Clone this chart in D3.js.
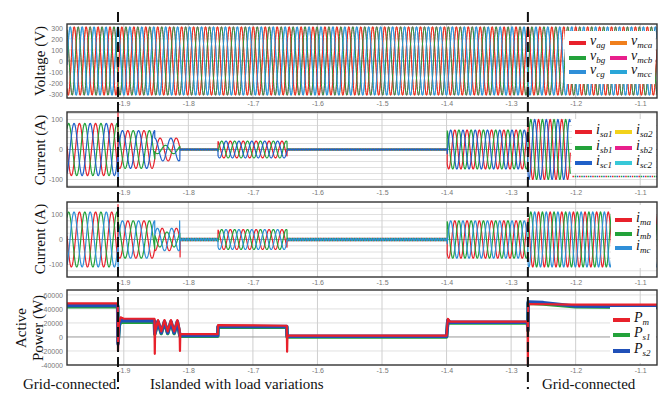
<!DOCTYPE html>
<html><head><meta charset="utf-8">
<script src="https://cdn.jsdelivr.net/npm/d3@7"></script>
<style>body{margin:0;background:#fff}svg{display:block}</style>
</head><body>
<svg id="c" width="669" height="395"></svg>
<script>
// ---------------- DATA ----------------
const timeTicks = [-1.9, -1.8, -1.7, -1.6, -1.5, -1.4, -1.3, -1.2, -1.1];
const timeDomain = [-1.988, -1.074];
const modeChangeTimes = [-1.909, -1.274];

const voltTicks = [-300, -200, -100, 0, 100, 200, 300];
const srcCurTicks = [-100, 0, 100];
const srcCurGrid = [-120, -100, -80, -60, -40, -20, 20, 40, 60, 80, 100, 120];
const mgCurTicks = [-100, 0, 100];
const mgCurGrid = [-125, -100, -75, -50, -25, 25, 50, 75, 100, 125];
const powerTicks = [-40000, -20000, 0, 20000, 40000, 60000];

// wave segments: [tStart, tEnd, period, ampPhaseA, ampPhaseB, ampPhaseC]
const voltSegments = [[-1.988, -1.074, 0.0185, 310, 310, 310]];
const srcCurSegments = [
  [-1.988, -1.9095, 0.025, 87, 87, 87],
  [-1.9085, -1.852, 0.025, 63, 63, 63],
  [-1.852, -1.813, 0.025, 38, 14, 38],
  [-1.813, -1.754, 0.004, 2, 2, 2],
  [-1.754, -1.647, 0.02, 28, 28, 28],
  [-1.647, -1.399, 0.004, 2, 2, 2],
  [-1.399, -1.2745, 0.019, 65, 65, 65],
  [-1.2735, -1.208, 0.018, 100, 100, 100]
];
// spikes: [time, phase index, value]
const srcCurSpikes = [[-1.909, 0, 125], [-1.9087, 2, -125]];
// dotted trace after the source is disconnected: [tStart, tEnd, value]
const srcCurTail = [[-1.205, -1.074, -90]];

const mgCurSegments = [
  [-1.988, -1.9095, 0.025, 110, 110, 110],
  [-1.9085, -1.852, 0.025, 75, 75, 75],
  [-1.852, -1.813, 0.022, 45, 30, 45],
  [-1.813, -1.754, 0.004, 5, 5, 5],
  [-1.754, -1.647, 0.02, 40, 40, 40],
  [-1.647, -1.399, 0.004, 5, 5, 5],
  [-1.399, -1.2745, 0.019, 75, 75, 75],
  [-1.2735, -1.074, 0.018, 110, 110, 110]
];
const mgCurSpikes = [[-1.909, 0, 140], [-1.9087, 2, -120], [-1.8135, 2, 75], [-1.8128, 0, -70]];

// active power traces [time, W]
const powerPm = [
  [-1.988, 48000], [-1.9095, 48000], [-1.909, -20000], [-1.9075, 20000], [-1.905, 28000], [-1.9, 26000],
  [-1.8525, 26000], [-1.852, -24000], [-1.8515, 8000], [-1.847, 24000], [-1.842, 8000], [-1.837, 24000],
  [-1.832, 8000], [-1.827, 24000], [-1.822, 8000], [-1.817, 24000], [-1.8135, 10000], [-1.813, -20000],
  [-1.8125, 4000], [-1.7545, 4000], [-1.754, 17000], [-1.6475, 16000], [-1.647, -21000], [-1.6465, 2000],
  [-1.4, 2000], [-1.398, 26000], [-1.395, 22000], [-1.2745, 22000], [-1.274, -40000], [-1.2735, 47000],
  [-1.2, 46000], [-1.074, 46000]
];
const powerPs1 = [
  [-1.988, 43000], [-1.9095, 43000], [-1.909, -8000], [-1.907, 16000], [-1.905, 21000], [-1.8525, 21000],
  [-1.852, 4000], [-1.847, 21000], [-1.842, 5000], [-1.837, 21000], [-1.832, 5000], [-1.827, 21000],
  [-1.822, 5000], [-1.817, 21000], [-1.813, 1000], [-1.7545, 1000], [-1.754, 14000], [-1.6475, 14000],
  [-1.647, 0], [-1.4, 0], [-1.398, 23000], [-1.395, 20000], [-1.2745, 20000], [-1.274, 9000],
  [-1.2735, 48000], [-1.25, 47000], [-1.2, 43000], [-1.074, 42000]
];
const powerPs2 = [
  [-1.988, 45000], [-1.9095, 45000], [-1.909, -10000], [-1.907, 18000], [-1.905, 23000], [-1.8525, 23000],
  [-1.852, 5000], [-1.847, 22000], [-1.842, 6000], [-1.837, 22000], [-1.832, 6000], [-1.827, 22000],
  [-1.822, 6000], [-1.817, 22000], [-1.813, 2000], [-1.7545, 2000], [-1.754, 15000], [-1.6475, 15000],
  [-1.647, 1000], [-1.4, 1000], [-1.398, 24000], [-1.395, 21000], [-1.2745, 21000], [-1.274, 10000],
  [-1.2735, 50000], [-1.25, 49000], [-1.2, 44000], [-1.074, 43000]
];

const voltLegend = [["v", "ag", "#e8212b"], ["v", "bg", "#23a23a"], ["v", "cg", "#2f8fd8"],
                    ["v", "mca", "#f07f1c"], ["v", "mcb", "#e8208c"], ["v", "mcc", "#2aa6d8"]];
const srcCurLegend = [["i", "sa1", "#e8212b"], ["i", "sb1", "#23a23a"], ["i", "sc1", "#2060c8"],
                      ["i", "sa2", "#f2d21a"], ["i", "sb2", "#e8208c"], ["i", "sc2", "#37c8d8"]];
const mgCurLegend = [["i", "ma", "#e8212b"], ["i", "mb", "#23a23a"], ["i", "mc", "#2f8fd8"]];
const powerLegend = [["P", "m", "#e8212b"], ["P", "s1", "#23a23a"], ["P", "s2", "#2050b8"]];

const axisTitles = [["Voltage (V)"], ["Current (A)"], ["Current (A)"], ["Active", "Power (W)"]];
const bottomLabels = ["Grid-connected", "Islanded with load variations", "Grid-connected"];

// ---------------- DRAWING ----------------
const svg = d3.select("#c");
const X0 = 67, X1 = 657;
const x = d3.scaleLinear().domain(timeDomain).range([X0, X1]);
const serif = "'Liberation Serif','Times New Roman',serif";
const sans = "'Liberation Sans',Arial,sans-serif";

const panels = [
  {top: 24, bottom: 98, domain: [-335, 335], ticks: voltTicks, grid: voltTicks},
  {top: 112, bottom: 187, domain: [-125, 125], ticks: srcCurTicks, grid: srcCurGrid},
  {top: 202, bottom: 277, domain: [-150, 150], ticks: mgCurTicks, grid: mgCurGrid},
  {top: 290, bottom: 365, domain: [-40000, 67000], ticks: powerTicks, grid: [-20000, 20000, 40000, 60000]}
];
panels.forEach((p, i) => {
  p.y = d3.scaleLinear().domain(p.domain).range([p.bottom, p.top]);
  const cid = "clip" + i;
  svg.append("clipPath").attr("id", cid).append("rect")
    .attr("x", X0).attr("y", p.top).attr("width", X1 - X0).attr("height", p.bottom - p.top);
  p.g = svg.append("g");
  p.plot = p.g.append("g").attr("clip-path", `url(#${cid})`);
  p.plot.selectAll(".hg").data(p.grid).join("line")
    .attr("x1", X0).attr("x2", X1).attr("y1", d => p.y(d)).attr("y2", d => p.y(d))
    .attr("stroke", "#d8d8d8").attr("stroke-width", 0.8);
  p.plot.selectAll(".vg").data(timeTicks).join("line")
    .attr("x1", d => x(d)).attr("x2", d => x(d)).attr("y1", p.top).attr("y2", p.bottom)
    .attr("stroke", "#cfcfcf").attr("stroke-width", 1);
  p.plot.append("line").attr("x1", X0).attr("x2", X1).attr("y1", p.y(0)).attr("y2", p.y(0))
    .attr("stroke", "#999").attr("stroke-width", 1);
  const ya = p.g.append("g").attr("transform", `translate(${X0},0)`)
    .call(d3.axisLeft(p.y).tickValues(p.ticks).tickSize(0).tickPadding(4).tickFormat(d => String(d)));
  ya.select(".domain").remove();
  ya.selectAll("text").attr("font-size", 7).attr("fill", "#777").attr("font-family", sans);
  const xa = p.g.append("g").attr("transform", `translate(0,${p.bottom})`)
    .call(d3.axisBottom(x).tickValues(timeTicks).tickSize(0).tickPadding(3).tickFormat(d => d.toFixed(1)));
  xa.select(".domain").remove();
  xa.selectAll("text").attr("font-size", 7).attr("fill", "#777").attr("font-family", sans);
});

function waveSeries(segments, k, spikes) {
  const pts = [];
  const dt = 0.0004;
  segments.forEach(s => {
    for (let t = s[0]; t <= s[1] + 1e-9; t += dt) {
      pts.push([t, s[3 + k] * Math.sin(2 * Math.PI * (t + 2) / s[2] - k * 2 * Math.PI / 3)]);
    }
  });
  (spikes || []).filter(s => s[1] === k).forEach(s => pts.push([s[0], s[2]]));
  pts.sort((a, b) => a[0] - b[0]);
  return pts;
}
function drawLine(p, data, color, w) {
  const line = d3.line().x(d => x(d[0])).y(d => p.y(d[1]));
  p.plot.append("path").datum(data).attr("d", line).attr("fill", "none")
    .attr("stroke", color).attr("stroke-width", w).attr("stroke-linejoin", "round");
}

// Panel 1: voltages (microgrid voltages hidden underneath grid voltages)
[3, 4, 5].forEach(j => drawLine(panels[0], waveSeries(voltSegments, j - 3), voltLegend[j][2], 1));
[0, 1, 2].forEach(k => drawLine(panels[0], waveSeries(voltSegments, k), voltLegend[k][2], 1));

// Panel 2: source currents
[0, 1, 2].forEach(k => drawLine(panels[1], waveSeries(srcCurSegments, k, srcCurSpikes), srcCurLegend[k][2], 1.2));
srcCurTail.forEach(s => {
  [0, 1, 2].forEach(k => {
    panels[1].plot.append("line").attr("x1", x(s[0]) + k * 2.2).attr("x2", x(s[1]))
      .attr("y1", panels[1].y(s[2])).attr("y2", panels[1].y(s[2]))
      .attr("stroke", srcCurLegend[k][2]).attr("stroke-width", 1.6).attr("stroke-dasharray", "1.5,5.1");
  });
});

// Panel 3: microgrid currents
[0, 1, 2].forEach(k => drawLine(panels[2], waveSeries(mgCurSegments, k, mgCurSpikes), mgCurLegend[k][2], 1.2));

// Panel 4: power
drawLine(panels[3], powerPs1, powerLegend[1][2], 3.5);
drawLine(panels[3], powerPs2, powerLegend[2][2], 3.5);
drawLine(panels[3], powerPm, powerLegend[0][2], 2.2);

// Panel borders
panels.forEach(p => {
  p.g.append("rect").attr("x", X0).attr("y", p.top).attr("width", X1 - X0).attr("height", p.bottom - p.top)
    .attr("fill", "none").attr("stroke", "#333").attr("stroke-width", 1.4);
});

// Legends
function legend(p, items, box, cols, rows) {
  p.g.append("rect").attr("x", box[0]).attr("y", box[1]).attr("width", box[2]).attr("height", box[3]).attr("fill", "#fff");
  items.forEach((it, i) => {
    const c = Math.floor(i / rows.length), r = i % rows.length;
    const sx = cols[c], sy = rows[r];
    p.g.append("line").attr("x1", sx).attr("x2", sx + 17).attr("y1", sy).attr("y2", sy)
      .attr("stroke", it[2]).attr("stroke-width", 4);
    const t = p.g.append("text").attr("x", sx + 21).attr("y", sy + 2)
      .attr("font-family", serif).attr("font-style", "italic").attr("fill", "#111");
    t.append("tspan").attr("font-size", 14).text(it[0]);
    t.append("tspan").attr("font-size", 9).attr("dy", 2.5).text(it[1]);
  });
}
legend(panels[0], voltLegend, [565, 31, 90, 53], [569, 610], [43, 58, 72]);
legend(panels[1], srcCurLegend, [572, 119, 84, 54], [575, 615], [132, 148, 163]);
legend(panels[2], mgCurLegend, [611, 205, 45, 63], [615], [220, 234, 248]);
legend(panels[3], powerLegend, [610, 307, 46, 56], [613], [320, 335, 351]);

// Axis titles
const titleCenters = [61, 150, 239, 328];
axisTitles.forEach((lines, i) => {
  lines.forEach((s, j) => {
    const cx = lines.length === 1 ? 40 : (j === 0 ? 21 : 38);
    svg.append("text").attr("transform", `translate(${cx + 5},${titleCenters[i]}) rotate(-90)`)
      .attr("text-anchor", "middle").attr("font-family", serif).attr("font-size", 15)
      .attr("fill", "#111").text(s);
  });
});

// Mode-change dashed lines
svg.selectAll(".mode").data(modeChangeTimes).join("line")
  .attr("x1", d => x(d)).attr("x2", d => x(d)).attr("y1", 12).attr("y2", 389)
  .attr("stroke", "#111").attr("stroke-width", 2).attr("stroke-dasharray", "10,5");

// Bottom labels
const bx = [23, 150, 542];
bottomLabels.forEach((s, i) => {
  svg.append("text").attr("x", bx[i]).attr("y", 389).attr("font-family", serif).attr("font-size", 15)
    .attr("fill", "#111").text(s);
});
</script>
</body></html>
